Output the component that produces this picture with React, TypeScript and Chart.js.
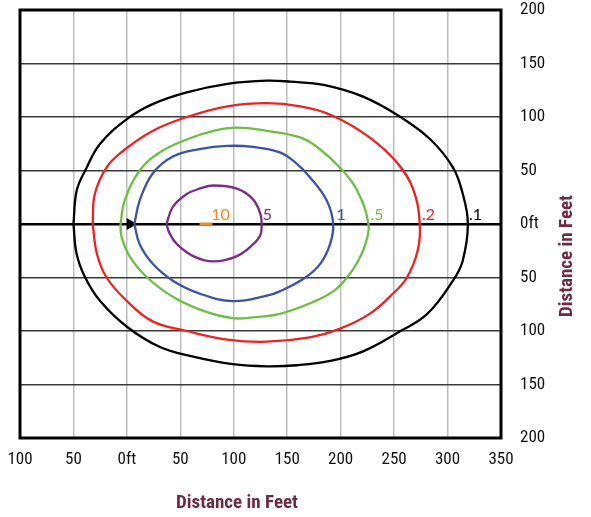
import React, { useEffect, useRef } from "react";
import { Chart, registerables } from "chart.js";

Chart.register(...registerables);

// Contour values (feet). Each contour: X and Y lists, going around once.
const blackX = [-50, -47, -39, -25, 0, 24, 56, 94, 131, 153, 184, 221, 256, 284, 305, 314, 319, 314, 305, 281, 256, 221, 190, 159, 131, 99, 62, 31, 0, -25, -39, -47, -50];
const blackY = [0, 31, 50, 75, 98, 112, 123, 131, 134, 133, 130, 119, 100, 79, 53, 29, 0, -35, -53, -84, -100, -119, -128, -132, -133, -131, -124, -115, -96, -72, -50, -28, 0];

const redX = [-32, -30, -19, -4, 24, 56, 94, 131, 162, 193, 227, 253, 268, 274, 272, 262, 249, 227, 199, 171, 131, 94, 56, 24, 0, -19, -28, -32];
const redY = [0, 28, 53, 68, 87, 100, 110, 113, 110, 101, 81, 57, 32, 0, -25, -50, -65, -84, -98, -106, -110, -108, -100, -91, -72, -50, -28, 0];

const greenX = [-6, -2, 12, 31, 56, 81, 103, 131, 162, 178, 199, 215, 226, 223, 216, 206, 193, 174, 143, 120, 99, 71, 43, 19, 3, -5, -6];
const greenY = [0, 22, 50, 67, 79, 87, 90, 87, 81, 72, 53, 32, 0, -19, -35, -50, -63, -73, -84, -87, -88, -81, -68, -50, -31, -12, 0];

const blueX = [7, 12, 24, 43, 68, 94, 118, 143, 157, 171, 187, 193, 190, 181, 167, 143, 131, 99, 68, 43, 24, 12, 7];
const blueY = [0, 22, 47, 63, 70, 73, 72, 67, 58, 44, 22, 0, -19, -37, -50, -63, -67, -72, -65, -53, -37, -19, 0];

const purpleX = [37, 43, 56, 68, 81, 103, 118, 125, 126, 125, 118, 103, 81, 62, 47, 40, 37];
const purpleY = [0, 16, 28, 33, 36, 33, 23, 9, 0, -10, -19, -30, -35, -30, -19, -9, 0];

const orangeX = [68, 80];
const orangeY = [0, 0];

const sourceX = [3];
const sourceY = [0];

// Contour labels
const labelTexts = [".1", ".2", ".5", "1", "5", "10"];
const labelX = [320, 276, 228, 196, 127, 79];
const labelColors = ["#000000", "#ee2222", "#6cbf45", "#3a55a8", "#7b2b8b", "#f08a24"];

const xTicks = [-100, -50, 0, 50, 100, 150, 200, 250, 300, 350];
const yTicks = [-200, -150, -100, -50, 0, 50, 100, 150, 200];
const axisTitle = "Distance in Feet";

const toPts = (xs: number[], ys: number[]) => xs.map((x, i) => ({ x, y: ys[i] }));

const tickText = (v: number) => (v === 0 ? "0ft" : String(Math.abs(v)));

const NARROW = "'Roboto Condensed', 'DejaVu Sans Condensed', sans-serif";
const MAROON = "#6e2b3f";

const overlay = {
  id: "overlay",
  afterDatasetsDraw(chart: any) {
    const { ctx, chartArea, scales } = chart;
    const xs = scales.x;
    const ys = scales.y;
    ctx.save();
    // contour labels
    ctx.font = "16px Lato, 'Open Sans', sans-serif";
    ctx.textAlign = "left";
    ctx.textBaseline = "bottom";
    labelTexts.forEach((t, i) => {
      ctx.fillStyle = labelColors[i];
      ctx.fillText(t, xs.getPixelForValue(labelX[i]), ys.getPixelForValue(0) - 1);
    });
    // frame
    ctx.strokeStyle = "#000";
    ctx.lineWidth = 3;
    ctx.strokeRect(chartArea.left, chartArea.top, chartArea.right - chartArea.left, chartArea.bottom - chartArea.top);
    // titles
    ctx.fillStyle = MAROON;
    ctx.font = "bold 19px " + NARROW;
    ctx.textAlign = "center";
    ctx.textBaseline = "middle";
    ctx.fillText(axisTitle, 237, 503);
    ctx.translate(567, 256);
    ctx.rotate(-Math.PI / 2);
    ctx.fillText(axisTitle, 0, 0);
    ctx.restore();
  },
};

const noPad = (s: any) => {
  s.paddingTop = 0;
  s.paddingBottom = 0;
  s.paddingLeft = 0;
  s.paddingRight = 0;
};

export default function App() {
  const ref = useRef<HTMLCanvasElement>(null);
  useEffect(() => {
    if (!ref.current) return;
    const line = (data: any, color: string, w = 2.3) => ({
      data,
      borderColor: color,
      backgroundColor: color,
      borderWidth: w,
      showLine: true,
      pointRadius: 0,
      tension: 0.4,
      fill: false,
    });
    const chart = new Chart(ref.current, {
      type: "scatter",
      data: {
        datasets: [
          line(toPts(blackX, blackY), "#000000"),
          line(toPts(redX, redY), "#ee2222"),
          line(toPts(greenX, greenY), "#6cbf45"),
          line(toPts(blueX, blueY), "#3a55a8"),
          line(toPts(purpleX, purpleY), "#7b2b8b"),
          { ...line(toPts(orangeX, orangeY), "#f08a24", 3), tension: 0 },
          {
            data: toPts(sourceX, sourceY),
            pointStyle: "triangle",
            rotation: 90,
            pointRadius: 7,
            backgroundColor: "#000",
            borderColor: "#000",
            borderWidth: 0,
            showLine: false,
          } as any,
        ],
      },
      options: {
        animation: false,
        responsive: true,
        maintainAspectRatio: false,
        layout: { padding: { left: 20, top: 10, right: 0, bottom: 0 } },
        plugins: { legend: { display: false }, tooltip: { enabled: false } },
        scales: {
          x: {
            type: "linear",
            min: -100,
            max: 350,
            afterFit: (s: any) => {
              s.height = 79;
              noPad(s);
            },
            afterBuildTicks: (s: any) => {
              s.ticks = xTicks.map((v) => ({ value: v }));
            },
            ticks: {
              callback: (v: any) => tickText(Number(v)),
              color: "#111",
              font: { family: NARROW, size: 17 },
              padding: 12,
              maxRotation: 0,
              autoSkip: false,
            },
            grid: { color: "#bdbdbd", lineWidth: 1.5, drawTicks: false },
            border: { display: false },
          },
          y: {
            type: "linear",
            position: "right",
            min: -200,
            max: 200,
            afterFit: (s: any) => {
              s.width = 90;
              noPad(s);
            },
            afterBuildTicks: (s: any) => {
              s.ticks = yTicks.map((v) => ({ value: v }));
            },
            ticks: {
              callback: (v: any) => tickText(Number(v)),
              color: "#111",
              font: { family: NARROW, size: 17 },
              padding: 19,
              autoSkip: false,
            },
            grid: {
              color: (c: any) => (c.tick && c.tick.value === 0 ? "#000" : "#3a3a3a"),
              lineWidth: (c: any) => (c.tick && c.tick.value === 0 ? 2.5 : 1.6),
              drawTicks: false,
            },
            border: { display: false },
          },
        },
      },
      plugins: [overlay],
    });
    return () => chart.destroy();
  }, []);
  return (
    <div style={{ position: "fixed", left: 0, top: 0, width: 591, height: 517, background: "#fff" }}>
      <canvas ref={ref} />
    </div>
  );
}
